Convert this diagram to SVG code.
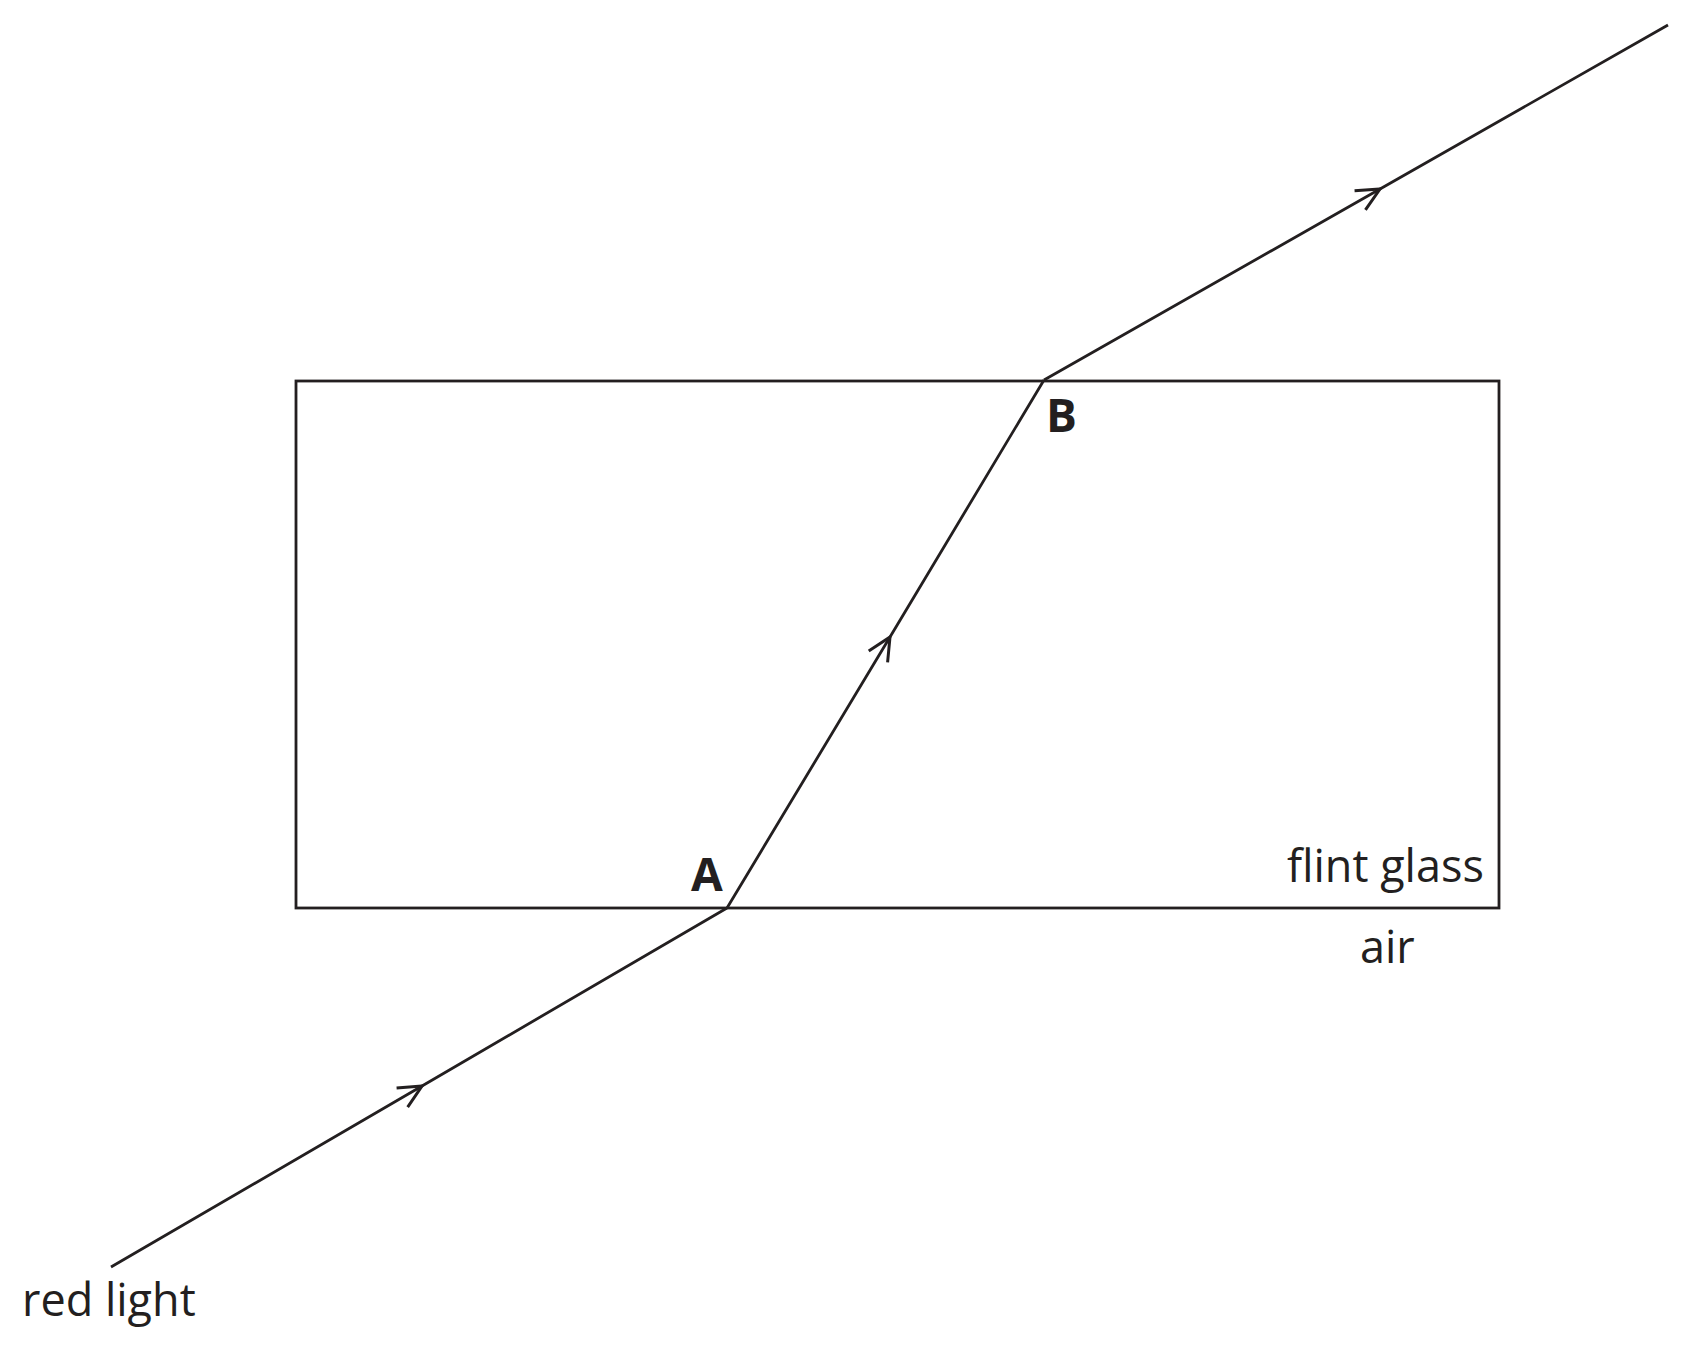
<svg xmlns="http://www.w3.org/2000/svg" width="1689" height="1345" viewBox="0 0 1689 1345">
<style>
.ln{fill:none;stroke:#231f20;stroke-width:2.8;stroke-linejoin:miter}
.ray{fill:none;stroke:#231f20;stroke-width:2.8;marker-mid:url(#arr)}
.lbl{font-family:"Open Sans","Liberation Sans",sans-serif;font-size:45px;fill:#231f20}
.pt{font-family:"Open Sans","Liberation Sans",sans-serif;font-size:46px;font-weight:bold;fill:#231f20}
</style>
<defs>
<marker id="arr" markerUnits="userSpaceOnUse" orient="auto" markerWidth="40" markerHeight="40" viewBox="-30 -20 40 40" refX="0" refY="0" overflow="visible">
<path d="M-23,-11 L0,0 L-23,11" fill="none" stroke="#231f20" stroke-width="3"/>
</marker>
</defs>
<rect fill="#ffffff" x="0" y="0" width="1689" height="1345"/>
<g id="glass-block">
<rect class="ln" x="296" y="381" width="1203" height="527"/>
<text class="lbl" x="1287" y="882">flint glass</text>
</g>
<g id="air-label">
<text class="lbl" x="1360" y="963">air</text>
</g>
<g id="point-A">
<text class="pt" x="691" y="891">A</text>
</g>
<g id="point-B">
<text class="pt" x="1046" y="432">B</text>
</g>
<g id="red-light">
<text class="lbl" x="22" y="1316">red light</text>
</g>
<g id="connectors">
<path class="ray" d="M111,1267 L422,1086 L727,908"/>
<path class="ray" d="M727,908 L890,637 L1044,380"/>
<path class="ray" d="M1044,380 L1380,189 L1668,25"/>
</g>
</svg>
